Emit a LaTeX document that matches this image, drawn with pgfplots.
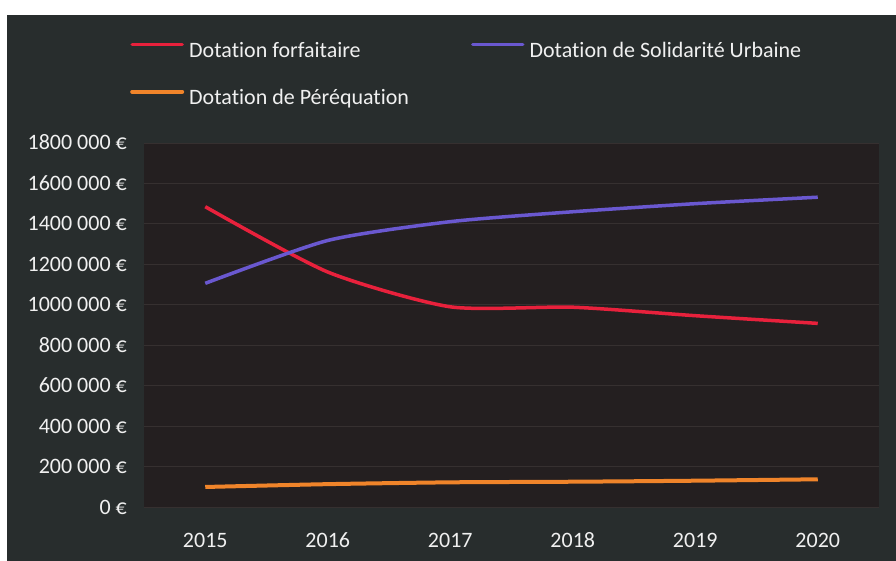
\documentclass[border=0pt]{standalone}
\usepackage{pgfplots}
\pgfplotsset{compat=1.18}
\usepackage{fontspec}
\setmainfont{Carlito}[Ligatures={NoCommon}]
\definecolor{bgc}{HTML}{282D2D}
\definecolor{plotbg}{HTML}{241F20}
\definecolor{gridc}{HTML}{363030}
\definecolor{cred}{HTML}{E8213C}
\definecolor{cblue}{HTML}{6A58D0}
\definecolor{corange}{HTML}{F0842A}
\definecolor{txt}{HTML}{F0F0F0}
\begin{document}
\begin{tikzpicture}
\fill[white] (0,0) rectangle (896bp,561bp);
\fill[bgc] (7bp,0) rectangle (896bp,546bp);
\fill[plotbg] (144bp,54bp) rectangle (879bp,418bp);
\begin{axis}[
  at={(144bp,54bp)}, anchor=south west,
  scale only axis, width=735bp, height=364bp,
  xmin=-0.5, xmax=5.5, ymin=0, ymax=1800000,
  scaled y ticks=false,
  xtick={0,1,2,3,4,5},
  xticklabels={2015,2016,2017,2018,2019,2020},
  ytick={0,200000,400000,600000,800000,1000000,1200000,1400000,1600000,1800000},
  yticklabels={0 €,200 000 €,400 000 €,600 000 €,800 000 €,1000 000 €,1200 000 €,1400 000 €,1600 000 €,1800 000 €},
  axis line style={draw=none},
  major tick length=0pt,
  ymajorgrids,
  major grid style={draw=gridc, line width=0.8bp},
  tick label style={text=txt, font=\fontsize{22bp}{26bp}\selectfont},
  xticklabel style={anchor=base, inner sep=0pt, yshift=-40bp},
  yticklabel style={anchor=base east, inner sep=0pt, xshift=-17bp, yshift=-7bp},
  legend columns=2,
  legend cell align=left,
  legend style={
    at={(-0.01905,1.2802)}, anchor=north west,
    draw=none, fill=none, text=txt, inner sep=0pt,
    font=\fontsize{22bp}{26bp}\selectfont,
    nodes={inner sep=0pt, text height=16bp, text depth=5bp},
    column sep=5bp,
    row sep=26bp,
    /tikz/every even column/.append style={column sep=62bp},
  },
  legend image code/.code={\draw[#1, line cap=round] (0bp,7bp) -- (50bp,7bp);},
  clip=false,
]
\addplot[cred, line width=3.5bp, smooth, tension=0.4] coordinates {
  (0,1485000) (1,1162000) (2,990000) (3,988000) (4,946000) (5,908000)};
\addlegendentry{Dotation forfaitaire}
\addplot[cblue, line width=3.5bp, smooth, tension=0.4] coordinates {
  (0,1106000) (1,1318000) (2,1411000) (3,1460000) (4,1500000) (5,1532000)};
\addlegendentry{Dotation de Solidarité Urbaine}
\addplot[corange, line width=4bp, smooth, tension=0.4] coordinates {
  (0,99000) (1,113000) (2,122000) (3,125000) (4,130000) (5,137000)};
\addlegendentry{Dotation de Péréquation}
\end{axis}
\pgfresetboundingbox
\useasboundingbox (0,0) rectangle (896bp,561bp);
\end{tikzpicture}
\end{document}
